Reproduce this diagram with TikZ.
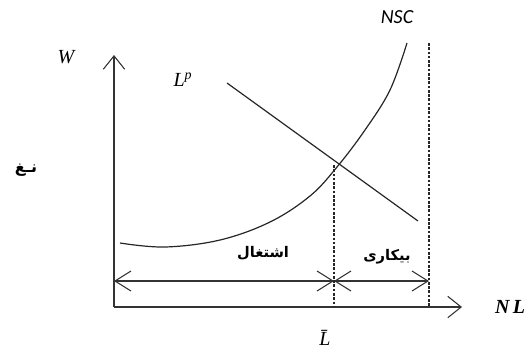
\documentclass[tikz,border=0pt]{standalone}
\usepackage{fontspec}
\usetikzlibrary{arrows.meta}
\TeXXeTstate=1
\newfontfamily\arabicfont[Script=Arabic]{DejaVu Sans}
\newfontfamily\calib{Carlito}
\setmainfont{Liberation Serif}
\begin{document}
\begin{tikzpicture}[x=0.75pt,y=-0.75pt,
  axis/.style={line width=0.8pt,draw=black!80,-{Straight Barb[length=10pt,width=16pt,line width=0.8pt]}},
  dbl/.style={line width=0.8pt,draw=black!80,{Straight Barb[length=12pt,width=15pt,line width=0.8pt]}-{Straight Barb[length=12pt,width=15pt,line width=0.8pt]}},
  curve/.style={line width=0.9pt,draw=black!85},
  guide/.style={line width=0.9pt,draw=black!85,dash pattern=on 2pt off 1.2pt},
  lab/.style={inner sep=0pt,font=\fontsize{15}{17}\selectfont\itshape},
  fa/.style={inner sep=0pt,font=\fontsize{11}{13}\selectfont\arabicfont\bfseries}]
\useasboundingbox (0,0) rectangle (527,351);
% axis points
\coordinate (O) at (114,307);
\coordinate (Ytop) at (114,55);
\coordinate (Xend) at (462,307);
\coordinate (Lb) at (334,307);
\coordinate (Rb) at (429,307);
\coordinate (Lt) at (334,165);
\coordinate (Rt) at (429,43);
\coordinate (A1) at (114,281);
\coordinate (A2) at (334,281);
\coordinate (A3) at (429,281);
\coordinate (Ls) at (227,83);
\coordinate (Le) at (418,221);
% axes
\draw[axis] (O) -- (Ytop);
\draw[axis] (O) -- (Xend);
% guides
\draw[guide] (Lt) -- (Lb);
\draw[guide] (Rt) -- (Rb);
% curves
\draw[curve] plot[smooth,tension=0.6] coordinates {(120,243) (165,247) (220,240) (270,222) (310,196) (337,167) (365,130) (390,90) (407,43)};
\draw[curve] (Ls) -- (Le);
% double arrows
\draw[dbl] (A1) -- (A2);
\draw[dbl] (A2) -- (A3);
% labels
\node[lab] (W) at (66,57) {W};
\node[lab] (Lp) at (183,80) {L\textsuperscript{p}};
\node[inner sep=0pt,font=\fontsize{15}{17}\selectfont\calib\itshape] (NSC) at (397,17) {NSC};
\node[lab,font=\fontsize{15}{17}\selectfont\bfseries\itshape] (NL) at (510,307) {N\,L};
\node[lab] (Lbar) at (325,338) {L̄};
\node[fa] (emp) at (263,253) {\beginR اشتغال\endR};
\node[fa] (unemp) at (387,257) {\beginR بیکاری\endR};
\node[fa,font=\fontsize{12}{14}\selectfont\arabicfont\bfseries] (ng) at (26,170) {\beginR نـغ\endR};
\end{tikzpicture}
\end{document}
